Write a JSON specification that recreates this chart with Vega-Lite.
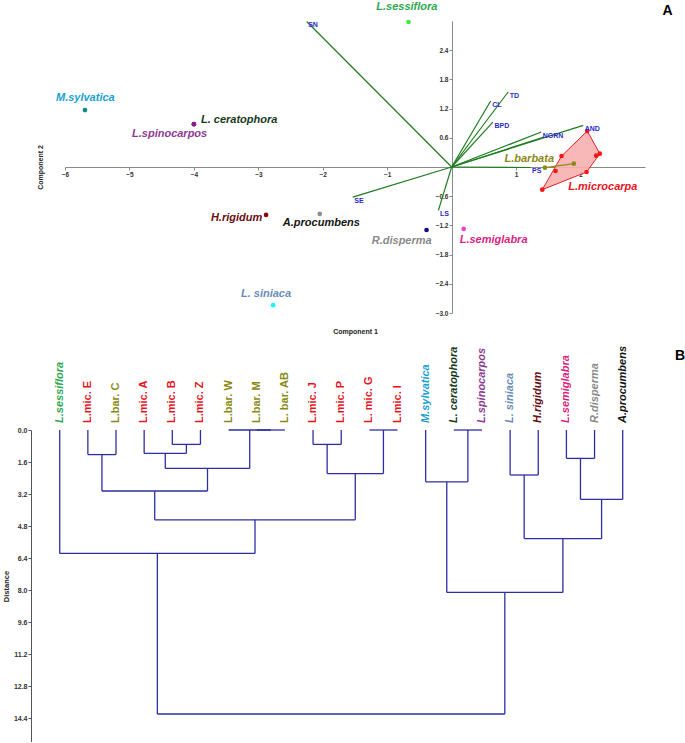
{
  "$schema": "https://vega.github.io/schema/vega-lite/v6.json",
  "padding": {"left": 2, "top": 0, "right": 0, "bottom": 0},
  "bounds": "flush",
  "spacing": 117,
  "config": {"view": {"stroke": null}, "font": "Liberation Sans"},
  "datasets": {
    "vectors": [
      {"v": "SN", "x": -2.25, "y": 2.99},
      {"v": "SE", "x": -1.535, "y": -0.62},
      {"v": "LS", "x": -0.206, "y": -0.89},
      {"v": "PS", "x": 1.225, "y": -0.01},
      {"v": "TD", "x": 0.879, "y": 1.546},
      {"v": "CL", "x": 0.605, "y": 1.355},
      {"v": "BPD", "x": 0.64, "y": 0.924},
      {"v": "NGRN", "x": 1.39, "y": 0.719},
      {"v": "", "x": 1.431, "y": 0.616},
      {"v": "AND", "x": 2.042, "y": 0.856}
    ],
    "points": [
      {"species": "M.sylvatica", "x": -5.69, "y": 1.17},
      {"species": "L. ceratophora", "x": -4.0, "y": 0.88},
      {"species": "L.spinocarpos", "x": -4.0, "y": 0.88},
      {"species": "H.rigidum", "x": -2.88, "y": -0.985},
      {"species": "A.procumbens", "x": -2.047, "y": -0.965},
      {"species": "R.disperma", "x": -0.39, "y": -1.294},
      {"species": "L.semiglabra", "x": 0.186, "y": -1.273},
      {"species": "L. siniaca", "x": -2.77, "y": -2.84},
      {"species": "L.sessiflora", "x": -0.67, "y": 2.98},
      {"species": "L.barbata", "x": 1.447, "y": -0.014},
      {"species": "L.barbata", "x": 1.896, "y": 0.068},
      {"species": "L.microcarpa", "x": 2.104, "y": 0.739},
      {"species": "L.microcarpa", "x": 2.299, "y": 0.273},
      {"species": "L.microcarpa", "x": 2.243, "y": 0.232},
      {"species": "L.microcarpa", "x": 1.705, "y": 0.226},
      {"species": "L.microcarpa", "x": 1.612, "y": -0.082},
      {"species": "L.microcarpa", "x": 2.093, "y": -0.103},
      {"species": "L.microcarpa", "x": 1.406, "y": -0.466}
    ],
    "hull": [
      {"o": 0, "x": 2.104, "y": 0.739},
      {"o": 1, "x": 2.299, "y": 0.273},
      {"o": 2, "x": 2.093, "y": -0.103},
      {"o": 3, "x": 1.406, "y": -0.466},
      {"o": 4, "x": 1.705, "y": 0.226},
      {"o": 5, "x": 2.104, "y": 0.739}
    ],
    "labels": [
      {"species": "M.sylvatica", "x": -6.14, "y": 1.42},
      {"species": "L. ceratophora", "x": -3.89, "y": 0.965},
      {"species": "L.spinocarpos", "x": -4.96, "y": 0.68},
      {"species": "H.rigidum", "x": -3.736, "y": -1.047},
      {"species": "A.procumbens", "x": -2.62, "y": -1.15},
      {"species": "R.disperma", "x": -1.24, "y": -1.52},
      {"species": "L.semiglabra", "x": 0.124, "y": -1.5},
      {"species": "L. siniaca", "x": -3.27, "y": -2.61},
      {"species": "L.sessiflora", "x": -1.17, "y": 3.29},
      {"species": "L.barbata", "x": 0.82, "y": 0.16},
      {"species": "L.microcarpa", "x": 1.81, "y": -0.41}
    ],
    "segments": [
      {"x": 1, "x2": 1, "y": 0, "y2": 1.23}, {"x": 2, "x2": 2, "y": 0, "y2": 1.23}, {"x": 1, "x2": 2, "y": 1.23, "y2": 1.23},
      {"x": 4, "x2": 4, "y": 0, "y2": 0.72}, {"x": 5, "x2": 5, "y": 0, "y2": 0.72}, {"x": 4, "x2": 5, "y": 0.72, "y2": 0.72},
      {"x": 3, "x2": 3, "y": 0, "y2": 1.17}, {"x": 4.5, "x2": 4.5, "y": 0.72, "y2": 1.17}, {"x": 3, "x2": 4.5, "y": 1.17, "y2": 1.17},
      {"x": 7, "x2": 8, "y": 0, "y2": 0},
      {"x": 6, "x2": 7.5, "y": 0, "y2": 0},
      {"x": 3.75, "x2": 3.75, "y": 1.17, "y2": 1.92}, {"x": 6.75, "x2": 6.75, "y": 0, "y2": 1.92}, {"x": 3.75, "x2": 6.75, "y": 1.92, "y2": 1.92},
      {"x": 1.5, "x2": 1.5, "y": 1.23, "y2": 3.05}, {"x": 5.25, "x2": 5.25, "y": 1.92, "y2": 3.05}, {"x": 1.5, "x2": 5.25, "y": 3.05, "y2": 3.05},
      {"x": 9, "x2": 9, "y": 0, "y2": 0.72}, {"x": 10, "x2": 10, "y": 0, "y2": 0.72}, {"x": 9, "x2": 10, "y": 0.72, "y2": 0.72},
      {"x": 11, "x2": 12, "y": 0, "y2": 0},
      {"x": 9.5, "x2": 9.5, "y": 0.72, "y2": 2.18}, {"x": 11.5, "x2": 11.5, "y": 0, "y2": 2.18}, {"x": 9.5, "x2": 11.5, "y": 2.18, "y2": 2.18},
      {"x": 3.375, "x2": 3.375, "y": 3.05, "y2": 4.49}, {"x": 10.5, "x2": 10.5, "y": 2.18, "y2": 4.49}, {"x": 3.375, "x2": 10.5, "y": 4.49, "y2": 4.49},
      {"x": 0, "x2": 0, "y": 0, "y2": 6.17}, {"x": 6.9375, "x2": 6.9375, "y": 4.49, "y2": 6.17}, {"x": 0, "x2": 6.9375, "y": 6.17, "y2": 6.17},
      {"x": 14, "x2": 15, "y": 0, "y2": 0},
      {"x": 13, "x2": 13, "y": 0, "y2": 2.59}, {"x": 14.5, "x2": 14.5, "y": 0, "y2": 2.59}, {"x": 13, "x2": 14.5, "y": 2.59, "y2": 2.59},
      {"x": 16, "x2": 16, "y": 0, "y2": 2.25}, {"x": 17, "x2": 17, "y": 0, "y2": 2.25}, {"x": 16, "x2": 17, "y": 2.25, "y2": 2.25},
      {"x": 18, "x2": 18, "y": 0, "y2": 1.42}, {"x": 19, "x2": 19, "y": 0, "y2": 1.42}, {"x": 18, "x2": 19, "y": 1.42, "y2": 1.42},
      {"x": 18.5, "x2": 18.5, "y": 1.42, "y2": 3.47}, {"x": 20, "x2": 20, "y": 0, "y2": 3.47}, {"x": 18.5, "x2": 20, "y": 3.47, "y2": 3.47},
      {"x": 16.5, "x2": 16.5, "y": 2.25, "y2": 5.43}, {"x": 19.25, "x2": 19.25, "y": 3.47, "y2": 5.43}, {"x": 16.5, "x2": 19.25, "y": 5.43, "y2": 5.43},
      {"x": 13.75, "x2": 13.75, "y": 2.59, "y2": 8.12}, {"x": 17.875, "x2": 17.875, "y": 5.43, "y2": 8.12}, {"x": 13.75, "x2": 17.875, "y": 8.12, "y2": 8.12},
      {"x": 3.46875, "x2": 3.46875, "y": 6.17, "y2": 14.2}, {"x": 15.8125, "x2": 15.8125, "y": 8.12, "y2": 14.2}, {"x": 3.46875, "x2": 15.8125, "y": 14.2, "y2": 14.2}
    ],
    "leaves": [
      {"label": "L.sessiflora", "species": "L.sessiflora", "kind": "species", "x": 0, "y": 0},
      {"label": "L.mic. E", "species": "L.microcarpa", "kind": "specimen", "x": 1, "y": 0},
      {"label": "L.bar. C", "species": "L.barbata", "kind": "specimen", "x": 2, "y": 0},
      {"label": "L.mic. A", "species": "L.microcarpa", "kind": "specimen", "x": 3, "y": 0},
      {"label": "L.mic. B", "species": "L.microcarpa", "kind": "specimen", "x": 4, "y": 0},
      {"label": "L.mic. Z", "species": "L.microcarpa", "kind": "specimen", "x": 5, "y": 0},
      {"label": "L.bar. W", "species": "L.barbata", "kind": "specimen", "x": 6, "y": 0},
      {"label": "L.bar. M", "species": "L.barbata", "kind": "specimen", "x": 7, "y": 0},
      {"label": "L. bar. AB", "species": "L.barbata", "kind": "specimen", "x": 8, "y": 0},
      {"label": "L.mic. J", "species": "L.microcarpa", "kind": "specimen", "x": 9, "y": 0},
      {"label": "L.mic. P", "species": "L.microcarpa", "kind": "specimen", "x": 10, "y": 0},
      {"label": "L. mic. G", "species": "L.microcarpa", "kind": "specimen", "x": 11, "y": 0},
      {"label": "L.mic. I", "species": "L.microcarpa", "kind": "specimen", "x": 12, "y": 0},
      {"label": "M.sylvatica", "species": "M.sylvatica", "kind": "species", "x": 13, "y": 0},
      {"label": "L. ceratophora", "species": "L. ceratophora", "kind": "species", "x": 14, "y": 0},
      {"label": "L.spinocarpos", "species": "L.spinocarpos", "kind": "species", "x": 15, "y": 0},
      {"label": "L. siniaca", "species": "L. siniaca", "kind": "species", "x": 16, "y": 0},
      {"label": "H.rigidum", "species": "H.rigidum", "kind": "species", "x": 17, "y": 0},
      {"label": "L.semiglabra", "species": "L.semiglabra", "kind": "species", "x": 18, "y": 0},
      {"label": "R.disperma", "species": "R.disperma", "kind": "species", "x": 19, "y": 0},
      {"label": "A.procumbens", "species": "A.procumbens", "kind": "species", "x": 20, "y": 0}
    ]
  },
  "vconcat": [
    {
      "width": 580,
      "height": 292,
      "encoding": {
        "x": {"field": "x", "type": "quantitative",
          "scale": {"domain": [-6, 3], "nice": false, "zero": false},
          "axis": {"values": [-6, -5, -4, -3, -2, -1, 1, 2], "format": "d", "offset": -146, "grid": false,
            "domainColor": "#8a8a8a", "tickColor": "#8a8a8a", "tickSize": 3, "labelPadding": 1,
            "labelFlush": false, "labelOverlap": false, "labelBound": false,
            "labelFontSize": 6.5, "labelFontWeight": "bold", "labelColor": "#333333",
            "title": "Component 1", "titleFontSize": 7, "titleFontWeight": "bold", "titleColor": "#222222",
            "titleY": 160, "titleBaseline": "top"}},
        "y": {"field": "y", "type": "quantitative",
          "scale": {"domain": [-3, 3], "nice": false, "zero": false},
          "axis": {"values": [-3, -2.4, -1.8, -1.2, -0.6, 0.6, 1.2, 1.8, 2.4], "format": ".1f", "offset": -387, "grid": false,
            "domainColor": "#8a8a8a", "tickColor": "#8a8a8a", "tickSize": 3, "labelPadding": 1,
            "labelFlush": false, "labelOverlap": false, "labelBound": false,
            "labelFontSize": 6.5, "labelFontWeight": "bold", "labelColor": "#333333",
            "title": "Component 2", "titleFontSize": 7, "titleFontWeight": "bold", "titleColor": "#222222",
            "titleX": -409, "titleY": 146}}
      },
      "layer": [
        {"data": {"name": "vectors"},
         "mark": {"type": "rule", "color": "#1f7d1f", "strokeWidth": 1.2},
         "encoding": {"x2": {"datum": 0}, "y2": {"datum": 0}}},
        {"data": {"name": "hull"},
         "mark": {"type": "line", "fill": "#f7b0b0", "fillOpacity": 0.9, "stroke": "#e8202a", "strokeWidth": 1},
         "encoding": {"order": {"field": "o", "type": "quantitative"}}},
        {"data": {"name": "points"},
         "transform": [{"filter": "datum.species == 'L.barbata'"}],
         "mark": {"type": "line", "color": "#8a8a14", "strokeWidth": 1.2},
         "encoding": {"order": {"field": "x", "type": "quantitative"}}},
        {"data": {"name": "points"},
         "mark": {"type": "circle", "size": 22, "opacity": 1},
         "encoding": {"fill": {"field": "species", "type": "nominal", "legend": null,
           "scale": {"domain": ["L.sessiflora", "L.microcarpa", "L.barbata", "M.sylvatica", "L. ceratophora", "L.spinocarpos", "L. siniaca", "H.rigidum", "L.semiglabra", "R.disperma", "A.procumbens"],
                     "range": ["#38f038", "#ff1414", "#8a8a14", "#0a8a8a", "#8a1a8a", "#8a1a8a", "#18f5f5", "#8a0a0a", "#f040d0", "#101080", "#8c8c8c"]}}}},
        {"data": {"name": "labels"},
         "mark": {"type": "text", "align": "left", "baseline": "middle", "fontSize": 11, "fontWeight": "bold", "fontStyle": "italic"},
         "encoding": {"text": {"field": "species"},
           "color": {"field": "species", "type": "nominal", "legend": null,
             "scale": {"domain": ["L.sessiflora", "L.microcarpa", "L.barbata", "M.sylvatica", "L. ceratophora", "L.spinocarpos", "L. siniaca", "H.rigidum", "L.semiglabra", "R.disperma", "A.procumbens"],
                       "range": ["#2ea84e", "#e8141e", "#8a8a14", "#1a9fd4", "#16391a", "#8e3a92", "#6a8cb8", "#6a0d12", "#dc1f80", "#8a8a8a", "#141414"]}}}},
        {"data": {"name": "vectors"},
         "mark": {"type": "text", "align": "left", "baseline": "middle", "dx": 1.5, "dy": 4, "fontSize": 7, "fontWeight": "bold", "color": "#2a2ad2"},
         "encoding": {"text": {"field": "v"}}},
        {"data": {"values": [{"x": 3.35, "y": 3.2, "t": "A"}]},
         "mark": {"type": "text", "align": "center", "baseline": "middle", "fontSize": 14, "fontWeight": "bold", "color": "#000000"},
         "encoding": {"text": {"field": "t"}}}
      ]
    },
    {
      "width": 580,
      "height": 312,
      "encoding": {
        "x": {"field": "x", "type": "quantitative",
          "scale": {"domain": [0.188, 20.792], "nice": false, "zero": false}, "axis": null},
        "y": {"field": "y", "type": "quantitative",
          "scale": {"domain": [0, 15.6], "reverse": true, "nice": false, "zero": false},
          "axis": {"values": [0, 1.6, 3.2, 4.8, 6.4, 8, 9.6, 11.2, 12.8, 14.4], "format": ".1f", "offset": 34, "grid": false,
            "domainColor": "#555555", "tickColor": "#555555", "tickSize": 3, "labelPadding": 1,
            "labelFlush": false, "labelOverlap": false, "labelBound": false,
            "labelFontSize": 7, "labelFontWeight": "bold", "labelColor": "#333333",
            "title": "Distance", "titleFontSize": 7.5, "titleFontWeight": "bold", "titleColor": "#222222", "titlePadding": 3}}
      },
      "layer": [
        {"data": {"name": "segments"},
         "mark": {"type": "rule", "color": "#2e2ea3", "strokeWidth": 1.3},
         "encoding": {"x2": {"field": "x2"}, "y2": {"field": "y2"}}},
        {"data": {"name": "leaves"},
         "transform": [{"filter": "datum.kind == 'species'"}],
         "mark": {"type": "text", "angle": 270, "align": "left", "baseline": "middle", "dx": 7, "fontSize": 11, "fontWeight": "bold", "fontStyle": "italic"},
         "encoding": {"text": {"field": "label"},
           "color": {"field": "species", "type": "nominal", "legend": null,
             "scale": {"domain": ["L.sessiflora", "L.microcarpa", "L.barbata", "M.sylvatica", "L. ceratophora", "L.spinocarpos", "L. siniaca", "H.rigidum", "L.semiglabra", "R.disperma", "A.procumbens"],
                       "range": ["#2ea84e", "#e8141e", "#8a8a14", "#1a9fd4", "#16391a", "#8e3a92", "#6a8cb8", "#6a0d12", "#dc1f80", "#8a8a8a", "#141414"]}}}},
        {"data": {"name": "leaves"},
         "transform": [{"filter": "datum.kind == 'specimen'"}],
         "mark": {"type": "text", "angle": 270, "align": "left", "baseline": "middle", "dx": 7, "fontSize": 11, "fontWeight": "bold"},
         "encoding": {"text": {"field": "label"},
           "color": {"field": "species", "type": "nominal", "legend": null,
             "scale": {"domain": ["L.sessiflora", "L.microcarpa", "L.barbata", "M.sylvatica", "L. ceratophora", "L.spinocarpos", "L. siniaca", "H.rigidum", "L.semiglabra", "R.disperma", "A.procumbens"],
                       "range": ["#2ea84e", "#e8141e", "#8a8a14", "#1a9fd4", "#16391a", "#8e3a92", "#6a8cb8", "#6a0d12", "#dc1f80", "#8a8a8a", "#141414"]}}}},
        {"data": {"values": [{"x": 22.04, "y": -3.7, "t": "B"}]},
         "mark": {"type": "text", "align": "center", "baseline": "middle", "fontSize": 14, "fontWeight": "bold", "color": "#000000"},
         "encoding": {"text": {"field": "t"}}}
      ]
    }
  ]
}
